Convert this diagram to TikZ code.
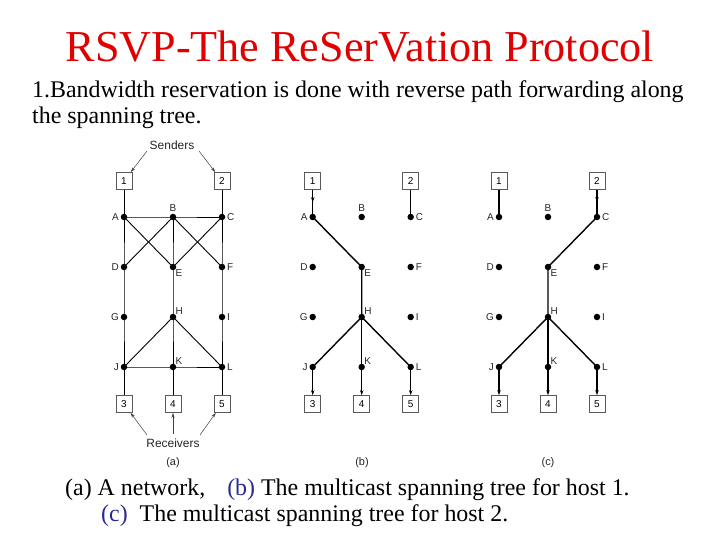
\documentclass[tikz,border=0pt]{standalone}
\usepackage{fontspec}
\setmainfont{Liberation Serif}
\newfontfamily\diagfont{Liberation Sans}
\usetikzlibrary{arrows.meta,decorations.markings}
\definecolor{titlered}{RGB}{225,0,0}
\definecolor{capblue}{RGB}{40,40,150}
\newcommand\mkpanel[2]{%
  \node[hostbox] (#1h1) at (#2,181) {1};
  \node[hostbox] (#1h2) at (#2+98,181) {2};
  \node[dotnode,label={[lbl]left:A}] (#1A) at (#2,217) {};
  \node[dotnode,label={[lbl]above:B}] (#1B) at (#2+49,217) {};
  \node[dotnode,label={[lbl]right:C}] (#1C) at (#2+98,217) {};
  \node[dotnode,label={[lbl]left:D}] (#1D) at (#2,267) {};
  \node[dotnode,label={[lbl,label distance=-2bp]below right:E}] (#1E) at (#2+49,267) {};
  \node[dotnode,label={[lbl]right:F}] (#1F) at (#2+98,267) {};
  \node[dotnode,label={[lbl]left:G}] (#1G) at (#2,317) {};
  \node[dotnode,label={[lbl,label distance=-2bp]above right:H}] (#1H) at (#2+49,317) {};
  \node[dotnode,label={[lbl]right:I}] (#1I) at (#2+98,317) {};
  \node[dotnode,label={[lbl]left:J}] (#1J) at (#2,367) {};
  \node[dotnode,label={[lbl,label distance=-2bp]above right:K}] (#1K) at (#2+49,367) {};
  \node[dotnode,label={[lbl]right:L}] (#1L) at (#2+98,367) {};
  \node[hostbox] (#1h3) at (#2,404) {3};
  \node[hostbox] (#1h4) at (#2+49,404) {4};
  \node[hostbox] (#1h5) at (#2+98,404) {5};
}
\begin{document}
\begin{tikzpicture}[x=1bp,y=-1bp,
  dotnode/.style={circle,fill=black,inner sep=0pt,minimum size=6.5bp},
  hostbox/.style={draw=black!65,line width=0.7bp,minimum width=16bp,minimum height=17bp,inner sep=0pt,font=\diagfont\fontsize{10}{10}\selectfont,fill=white},
  lbl/.style={font=\diagfont\fontsize{10}{10}\selectfont,inner sep=1.5pt,text=black!85},
  net/.style={line width=0.9bp},
  tree/.style={line width=1.4bp},
  tip/.style={-{Stealth[length=5bp,width=3.5bp]}},
  ptr/.style={line width=0.5bp,draw=black!75,-{Stealth[length=5bp,width=3bp]}},
  midtip/.style={postaction={decorate},decoration={markings,mark=at position 0.45 with {\arrow{Stealth[length=5bp,width=3.5bp]}}}},
  captext/.style={font=\diagfont\fontsize{11}{11}\selectfont,text=black!85},
  bigcap/.style={font=\diagfont\fontsize{12}{12}\selectfont,text=black!85}
]
\useasboundingbox (0,0) rectangle (720,540);
\fill[white] (0,0) rectangle (720,540);

% texts
\node[anchor=base,text=titlered,font=\fontsize{44.3}{44.3}\selectfont,inner sep=0pt] (title) at (360,62) {RSVP-The ReSerVation Protocol};
\node[anchor=base west,font=\fontsize{24}{24}\selectfont,inner sep=0pt] (line1) at (32,98) {1.Bandwidth reservation is done with reverse path forwarding along};
\node[anchor=base west,font=\fontsize{24}{24}\selectfont,inner sep=0pt] (line2) at (32,124) {the spanning tree.};
\node[anchor=base west,font=\fontsize{24}{24}\selectfont,inner sep=0pt] (cap1) at (65,495) {(a) A network,\hspace{16bp} {\color{capblue}(b)} The multicast spanning tree for host 1.};
\node[anchor=base west,font=\fontsize{24}{24}\selectfont,inner sep=0pt] (cap2) at (101,521) {{\color{capblue}(c)}\hspace{6bp} The multicast spanning tree for host 2.};

% panels
\mkpanel{a}{124}
\mkpanel{b}{312.7}
\mkpanel{c}{499}

% (a) network
\draw[net] (ah1) -- (aA.center);
\draw[net] (ah2) -- (aC.center);
\draw[net] (aA.center) -- (aB.center) -- (aC.center);
\draw[net] (aA.center) -- (aD.center) -- (aG.center) -- (aJ.center);
\draw[net] (aB.center) -- (aE.center) -- (aH.center) -- (aK.center);
\draw[net] (aC.center) -- (aF.center) -- (aI.center) -- (aL.center);
\draw[net] (aA.center) -- (aE.center);
\draw[net] (aB.center) -- (aD.center);
\draw[net] (aB.center) -- (aF.center);
\draw[net] (aC.center) -- (aE.center);
\draw[net] (aH.center) -- (aJ.center);
\draw[net] (aH.center) -- (aL.center);
\draw[net] (aJ.center) -- (aK.center) -- (aL.center);
\draw[net] (aJ.center) -- (ah3);
\draw[net] (aK.center) -- (ah4);
\draw[net] (aL.center) -- (ah5);

\node[bigcap] (senders) at (172,145) {Senders};
\coordinate (sl) at (147,151);
\coordinate (sr) at (199,151);
\draw[ptr] (sl) -- (ah1);
\draw[ptr] (sr) -- (ah2);
\node[bigcap] (receivers) at (173,443) {Receivers};
\coordinate (rl) at (147,435);
\coordinate (rm) at (173,434);
\coordinate (rr) at (200,435);
\draw[ptr] (rl) -- (ah3);
\draw[ptr] (rm) -- (ah4);
\draw[ptr] (rr) -- (ah5);
\node[captext] (capa) at (173,463) {(a)};

% (b) tree for host 1
\draw[tree,midtip] (bh1) -- (bA.center);
\draw[tree] (bh2) -- (bC.center);
\draw[tree] (bA.center) -- (bE.center) -- (bH.center);
\draw[tree] (bH.center) -- (bJ.center);
\draw[tree] (bH.center) -- (bK.center);
\draw[tree] (bH.center) -- (bL.center);
\draw[tree,tip] (bJ.center) -- (bh3);
\draw[tree,tip] (bK.center) -- (bh4);
\draw[tree,tip] (bL.center) -- (bh5);
\node[captext] (capb) at (362,463) {(b)};

% (c) tree for host 2
\draw[tree] (ch1) -- (cA.center);
\draw[tree,midtip] (ch2) -- (cC.center);
\draw[tree] (cC.center) -- (cE.center) -- (cH.center);
\draw[tree] (cH.center) -- (cJ.center);
\draw[tree] (cH.center) -- (cK.center);
\draw[tree] (cH.center) -- (cL.center);
\draw[tree,tip] (cJ.center) -- (ch3);
\draw[tree,tip] (cK.center) -- (ch4);
\draw[tree,tip] (cL.center) -- (ch5);
\node[captext] (capc) at (548,463) {(c)};
\end{tikzpicture}
\end{document}
